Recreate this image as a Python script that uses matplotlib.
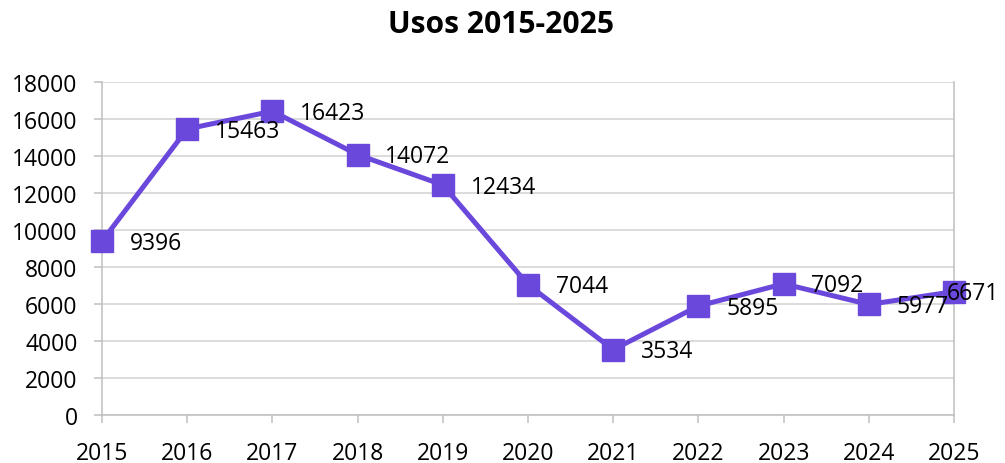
import matplotlib
matplotlib.use('Agg')
import matplotlib.pyplot as plt

# ── Data ──────────────────────────────────────────────────────────────────────
years = [2015, 2016, 2017, 2018, 2019, 2020, 2021, 2022, 2023, 2024, 2025]
usos = [9396, 15463, 16423, 14072, 12434, 7044, 3534, 5895, 7092, 5977, 6671]
y_ticks = list(range(0, 18001, 2000))
title = 'Usos 2015-2025'

PURPLE = '#6B48DC'
GRID = '#D9D9D9'
AXIS = '#BFBFBF'

plt.rcParams['font.family'] = ['Open Sans', 'DejaVu Sans']

fig = plt.figure(figsize=(10.05, 4.64), dpi=100)
ax = fig.add_axes([0.1015, 0.1034, 0.8478, 0.7177])

ax.plot(years, usos, color=PURPLE, lw=3.6, marker='s', markersize=16,
        markerfacecolor=PURPLE, markeredgecolor=PURPLE, clip_on=False, zorder=3)

# data labels, right of each point (last one pushed back inside like Excel does)
for i, (x, y) in enumerate(zip(years, usos)):
    dx = 20 if i < len(years) - 1 else -5
    ax.annotate(str(y), (x, y), xytext=(dx, -1.2), textcoords='offset points',
                ha='left', va='center', fontsize=16.5, color='black', zorder=4)

ax.set_xlim(years[0], years[-1])
ax.set_ylim(0, 18000)
ax.set_xticks(years)
ax.set_yticks(y_ticks)
ax.tick_params(axis='both', labelsize=16.5, colors=AXIS, labelcolor='black',
               length=5.5, width=1.1)
ax.tick_params(axis='y', pad=12)
ax.tick_params(axis='x', pad=13)

ax.yaxis.grid(True, color=GRID, lw=1.3)
ax.set_axisbelow(True)
ax.spines['top'].set_visible(False)
for s in ('left', 'right', 'bottom'):
    ax.spines[s].set_color(AXIS)
    ax.spines[s].set_linewidth(1.1)

fig.text(0.4985, 0.946, title, ha='center', va='center',
         fontsize=21.6, fontweight='bold')

fig.savefig('out.png', dpi=100)
